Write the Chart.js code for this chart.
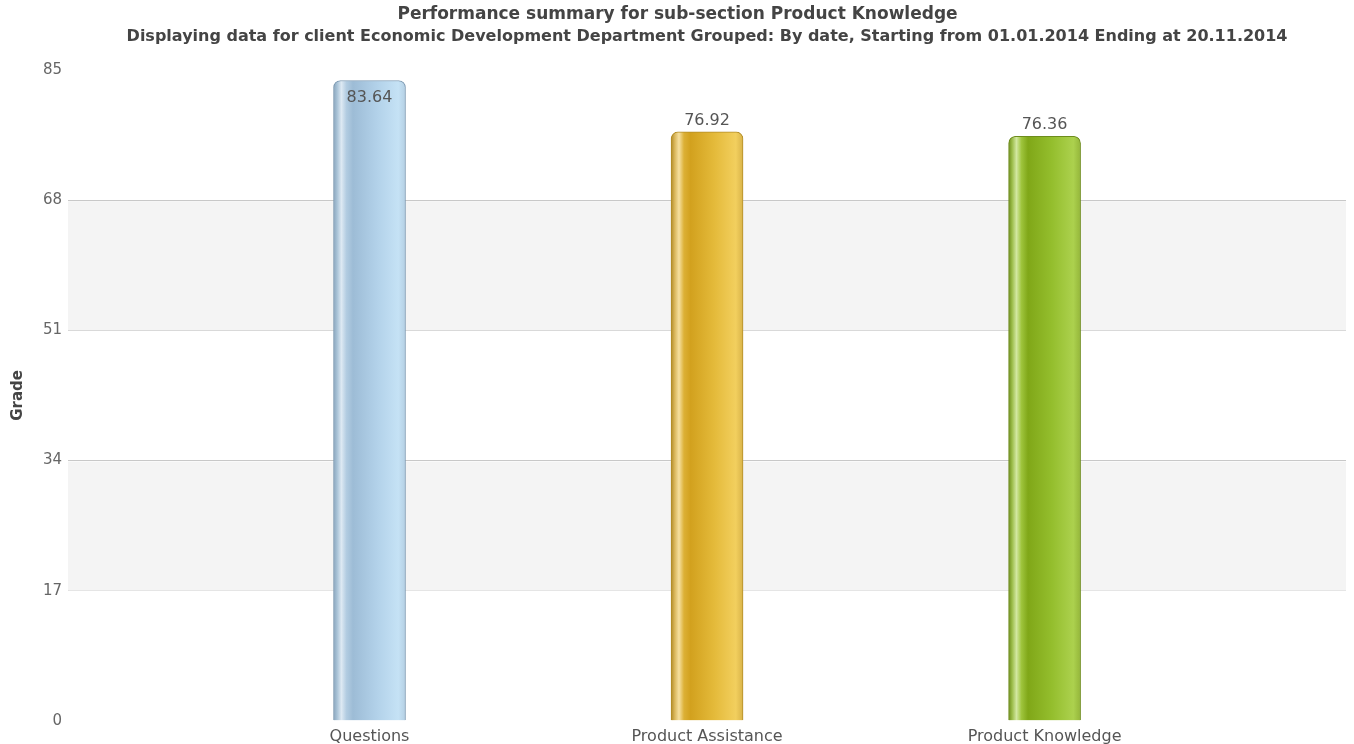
<!DOCTYPE html>
<html>
<head>
<meta charset="utf-8">
<script src="https://cdn.jsdelivr.net/npm/chart.js@4.4.1/dist/chart.umd.min.js"></script>
<style>
  html, body { margin: 0; padding: 0; background: #fff; }
  canvas { display: block; }
</style>
</head>
<body>
<canvas id="graficoDesempenho" width="1354" height="744"></canvas>
<script>
const categories = ['Questions', 'Product Assistance', 'Product Knowledge'];
const grades = [83.64, 76.92, 76.36];
const gradeTicks = [0, 17, 34, 51, 68, 85];
const shadedBands = [[17, 34], [51, 68]];
const titleText = 'Performance summary for sub-section Product Knowledge';
const subtitleText = 'Displaying data for client Economic Development Department Grouped: By date, Starting from 01.01.2014 Ending at 20.11.2014';

const FONT = "'DejaVu Sans', Verdana, sans-serif";

// cylinder-like shading for each bar: dark edge, bright streak, then lighter towards the right
const barShades = [
    { border: '#7f9bb3', stops: ['#8aa6be', '#a9c3d7', '#dde9f3', '#b2cce1', '#9dbcd6', '#b2d1e9', '#c5e2f5', '#b4cfe3'] },
    { border: '#b38d26', stops: ['#b08a28', '#d9b65a', '#f6e0a0', '#dcb035', '#d2a11e', '#e4ba3a', '#f2cf5e', '#d8b349'] },
    { border: '#6d8c1c', stops: ['#6d8c1c', '#9cbd4a', '#d2e7a0', '#9ec43c', '#80a718', '#94be2d', '#acd14e', '#94b63a'] }
];
const stopPos = [0, 0.05, 0.11, 0.18, 0.27, 0.6, 0.9, 1];
const BAR_WIDTH = 72;

function barGradient(context) {
    const chart = context.chart;
    const shade = barShades[context.dataIndex % barShades.length];
    const xs = chart.scales.x;
    if (!xs || !chart.chartArea) return shade.stops[4];
    const cx = xs.getPixelForValue(context.dataIndex);
    const g = chart.ctx.createLinearGradient(cx - BAR_WIDTH / 2, 0, cx + BAR_WIDTH / 2, 0);
    shade.stops.forEach((c, i) => g.addColorStop(stopPos[i], c));
    return g;
}

// alternating grey bands behind the bars
const bandPlugin = {
    id: 'bands',
    beforeDatasetsDraw(chart) {
        const { ctx, chartArea } = chart;
        const y = chart.scales.y;
        ctx.save();
        ctx.fillStyle = '#f4f4f4';
        shadedBands.forEach(([from, to]) => {
            const top = y.getPixelForValue(to);
            const bottom = y.getPixelForValue(from);
            ctx.fillRect(chartArea.left, top + 1, chartArea.right - chartArea.left, bottom - top - 1);
        });
        ctx.restore();
    }
};

// value written over each bar, moved inside when it would leave the plot
const valueLabels = {
    id: 'valueLabels',
    afterDatasetsDraw(chart) {
        const { ctx, chartArea } = chart;
        const meta = chart.getDatasetMeta(0);
        ctx.save();
        ctx.font = '16px ' + FONT;
        ctx.fillStyle = '#555';
        ctx.textAlign = 'center';
        ctx.textBaseline = 'alphabetic';
        meta.data.forEach((bar, i) => {
            let y = bar.y - 7;
            if (y - 12 < chartArea.top) y = bar.y + 21;
            ctx.fillText(grades[i].toFixed(2), bar.x, y);
        });
        ctx.restore();
    }
};

const ctx = document.getElementById('graficoDesempenho').getContext('2d');
const grafico = new Chart(ctx, {
    type: 'bar',
    data: {
        datasets: [{
            label: 'Grade',
            data: grades.map((g, i) => ({ x: i, y: g })),
            backgroundColor: barGradient,
            borderColor: (c) => barShades[c.dataIndex % barShades.length].border,
            borderWidth: 1,
            borderRadius: { topLeft: 7, topRight: 7, bottomLeft: 0, bottomRight: 0 },
            borderSkipped: 'bottom',
            barThickness: BAR_WIDTH
        }]
    },
    options: {
        responsive: false,
        animation: false,
        layout: { padding: { left: 9, right: 8, top: 0, bottom: -8 } },
        plugins: {
            legend: { display: false },
            tooltip: { enabled: false },
            title: {
                display: true,
                text: titleText,
                color: '#444',
                font: { family: FONT, size: 17, weight: 'bold', lineHeight: 1.3 },
                padding: { top: 4, bottom: 0 }
            },
            subtitle: {
                display: true,
                text: subtitleText,
                fullSize: false,
                color: '#444',
                font: { family: FONT, size: 16, weight: 'bold', lineHeight: 1.375 },
                padding: { top: 0, bottom: 22 }
            }
        },
        scales: {
            x: {
                type: 'linear',
                offset: false,
                min: -0.893,
                max: 2.893,
                afterBuildTicks: (scale) => { scale.ticks = categories.map((_, i) => ({ value: i })); },
                ticks: {
                    callback: (v) => categories[v],
                    color: '#555',
                    font: { family: FONT, size: 16 },
                    padding: 6,
                    maxRotation: 0,
                    autoSkip: false
                },
                grid: { display: false, drawTicks: false },
                border: { display: false }
            },
            y: {
                min: 0,
                max: 85,
                afterBuildTicks: (scale) => { scale.ticks = gradeTicks.map(v => ({ value: v })); },
                ticks: {
                    color: '#666',
                    font: { family: FONT, size: 15 },
                    padding: 6
                },
                grid: {
                    color: (c) => (c.tick && (c.tick.value === 0 || c.tick.value === 85)) ? 'rgba(0,0,0,0)' : '#c8c8c8',
                    drawTicks: false,
                    lineWidth: 1
                },
                border: { display: false },
                title: {
                    display: true,
                    text: 'Grade',
                    color: '#444',
                    font: { family: FONT, size: 15, weight: 'bold' },
                    padding: { top: 0, bottom: 10 }
                }
            }
        }
    },
    plugins: [bandPlugin, valueLabels]
});
</script>
</body>
</html>
